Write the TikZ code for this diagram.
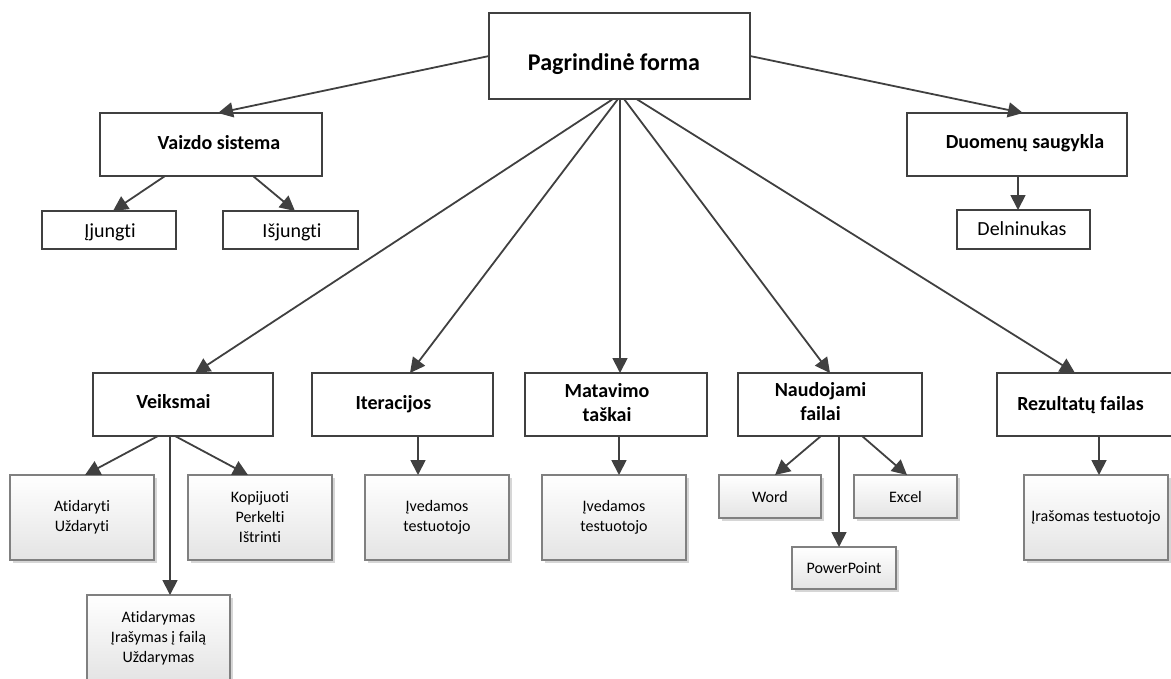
\documentclass[tikz,border=0pt]{standalone}
\usepackage{fontspec}
\setmainfont{Carlito}[Ligatures=CommonOff]
\usetikzlibrary{arrows.meta,shadows}
\definecolor{ln}{HTML}{404040}
\definecolor{lowedge}{HTML}{808080}
\definecolor{lowbot}{HTML}{E4E4E4}
\definecolor{shad}{HTML}{D6D6D6}
\tikzset{
  upbox/.style={draw=ln, line width=2pt, fill=white, inner sep=0pt, outer sep=0pt},
  lowbox/.style={draw=lowedge, line width=1.1pt, top color=white, bottom color=lowbot,
    inner sep=0pt, outer sep=0pt,
    drop shadow={shadow xshift=3pt, shadow yshift=-3pt, fill=shad, opacity=1}},
  bigtxt/.style={font=\fontsize{24}{29}\selectfont\bfseries, inner sep=0pt},
  headtxt/.style={font=\fontsize{20}{24}\selectfont\bfseries, inner sep=0pt, align=center},
  midtxt/.style={font=\fontsize{20}{24}\selectfont, inner sep=0pt},
  smalltxt/.style={font=\fontsize{16}{20}\selectfont, inner sep=0pt, align=center},
  arr/.style={draw=ln, line width=1.8pt, -{Triangle[length=15pt,width=15pt]}, color=ln},
}
\begin{document}
\begin{tikzpicture}[x=1pt,y=-1pt]
\useasboundingbox (0,0) rectangle (1171,678);

% top level
\node[upbox, minimum width=261pt, minimum height=86pt] (main) at (619.5,56) {};
\node[bigtxt, anchor=base] (mainT) at (614,70) {Pagrindinė forma};

% second row, upper part
\node[upbox, minimum width=222pt, minimum height=63pt] (vaiz) at (211,144.5) {};
\node[headtxt, anchor=base] (vaizT) at (219,149) {Vaizdo sistema};
\node[upbox, minimum width=134pt, minimum height=38pt] (ijun) at (109,230) {};
\node[midtxt, anchor=base] (ijunT) at (110,237) {Įjungti};
\node[upbox, minimum width=135pt, minimum height=38pt] (isjun) at (290.5,230) {};
\node[midtxt, anchor=base] (isjunT) at (292,237) {Išjungti};

\node[upbox, minimum width=220pt, minimum height=63pt] (duom) at (1017,144.5) {};
\node[headtxt, anchor=base] (duomT) at (1025,148) {Duomenų saugykla};
\node[upbox, minimum width=133pt, minimum height=39pt] (deln) at (1023.5,229.5) {};
\node[midtxt, anchor=base] (delnT) at (1022,235) {Delninukas};

% third row
\node[upbox, minimum width=180pt, minimum height=63pt] (veik) at (183,404.5) {};
\node[headtxt, anchor=base] (veikT) at (173.5,408) {Veiksmai};
\node[upbox, minimum width=181pt, minimum height=63pt] (iter) at (402.5,404.5) {};
\node[headtxt, anchor=base] (iterT) at (393.5,409) {Iteracijos};
\node[upbox, minimum width=182pt, minimum height=63pt] (mata) at (616,404.5) {};
\node[headtxt, anchor=base] (mataT) at (607,421) {Matavimo\\taškai};
\node[upbox, minimum width=184pt, minimum height=63pt] (naud) at (830,404.5) {};
\node[headtxt, anchor=base] (naudT) at (820.5,420) {Naudojami\\failai};
\node[upbox, minimum width=181pt, minimum height=63pt] (rez) at (1087.5,404.5) {};
\node[headtxt, anchor=base] (rezT) at (1080.5,410) {Rezultatų failas};

% leaves
\node[lowbox, minimum width=144pt, minimum height=85pt] (atid) at (82,517.5) {};
\node[smalltxt] (atidT) at (82,517.5) {Atidaryti\\Uždaryti};
\node[lowbox, minimum width=144pt, minimum height=85pt] (kopi) at (260,517.5) {};
\node[smalltxt] (kopiT) at (260,517.5) {Kopijuoti\\Perkelti\\Ištrinti};
\node[lowbox, minimum width=143pt, minimum height=86pt] (atidm) at (158.5,638) {};
\node[smalltxt] (atidmT) at (158.5,638) {Atidarymas\\Įrašymas į failą\\Uždarymas};
\node[lowbox, minimum width=144pt, minimum height=85pt] (ived1) at (437,517.5) {};
\node[smalltxt] (ived1T) at (437,517.5) {Įvedamos\\testuotojo};
\node[lowbox, minimum width=144pt, minimum height=85pt] (ived2) at (614,517.5) {};
\node[smalltxt] (ived2T) at (614,517.5) {Įvedamos\\testuotojo};
\node[lowbox, minimum width=102pt, minimum height=43pt] (word) at (770,496.5) {};
\node[smalltxt] (wordT) at (770,496.5) {Word};
\node[lowbox, minimum width=103pt, minimum height=43pt] (excel) at (905.5,496.5) {};
\node[smalltxt] (excelT) at (905.5,496.5) {Excel};
\node[lowbox, minimum width=104pt, minimum height=42pt] (ppt) at (844,568) {};
\node[smalltxt] (pptT) at (844,568) {PowerPoint};
\node[lowbox, minimum width=144pt, minimum height=85pt] (iras) at (1096,517.5) {};
\node[smalltxt] (irasT) at (1096,517.5) {Įrašomas testuotojo};

% connectors from the main form
\draw[arr] (main.west) -- ([xshift=7pt]vaiz.north);
\draw[arr] (main.east) -- ([xshift=6pt]duom.north);
\draw[arr] ([xshift=-6.5pt]main.south) -- ([xshift=12pt]veik.north);
\draw[arr] ([xshift=-1.5pt]main.south) -- ([xshift=7.5pt]iter.north);
\draw[arr] ([xshift=0.5pt]main.south) -- ([xshift=0.5pt]main.south |- mata.north);
\draw[arr] ([xshift=4.5pt]main.south) -- (naud.north);
\draw[arr] ([xshift=17pt]main.south) -- ([xshift=-12.5pt]rez.north);

% display system
\draw[arr] ([xshift=-46pt]vaiz.south) -- ([xshift=4pt]ijun.north);
\draw[arr] ([xshift=42pt]vaiz.south) -- ([xshift=4.5pt]isjun.north);

% data storage
\draw[arr] ([xshift=1pt]duom.south) -- ([xshift=1pt]duom.south |- deln.north);

% actions
\draw[arr] ([xshift=-25pt]veik.south) -- ([xshift=3pt]atid.north);
\draw[arr] ([xshift=-13pt]veik.south) -- ([xshift=-13pt]veik.south |- atidm.north);
\draw[arr] ([xshift=-8pt]veik.south) -- ([xshift=-12pt]kopi.north);

% iterations, measuring points
\draw[arr] ([xshift=15.5pt]iter.south) -- ([xshift=15.5pt]iter.south |- ived1.north);
\draw[arr] ([xshift=3pt]mata.south) -- ([xshift=3pt]mata.south |- ived2.north);

% used files
\draw[arr] ([xshift=-9pt]naud.south) -- ([xshift=5pt]word.north);
\draw[arr] ([xshift=9pt]naud.south) -- ([xshift=9pt]naud.south |- ppt.north);
\draw[arr] ([xshift=32pt]naud.south) -- ([xshift=1.5pt]excel.north);

% result file
\draw[arr] ([xshift=11.5pt]rez.south) -- ([xshift=11.5pt]rez.south |- iras.north);
\end{tikzpicture}
\end{document}
